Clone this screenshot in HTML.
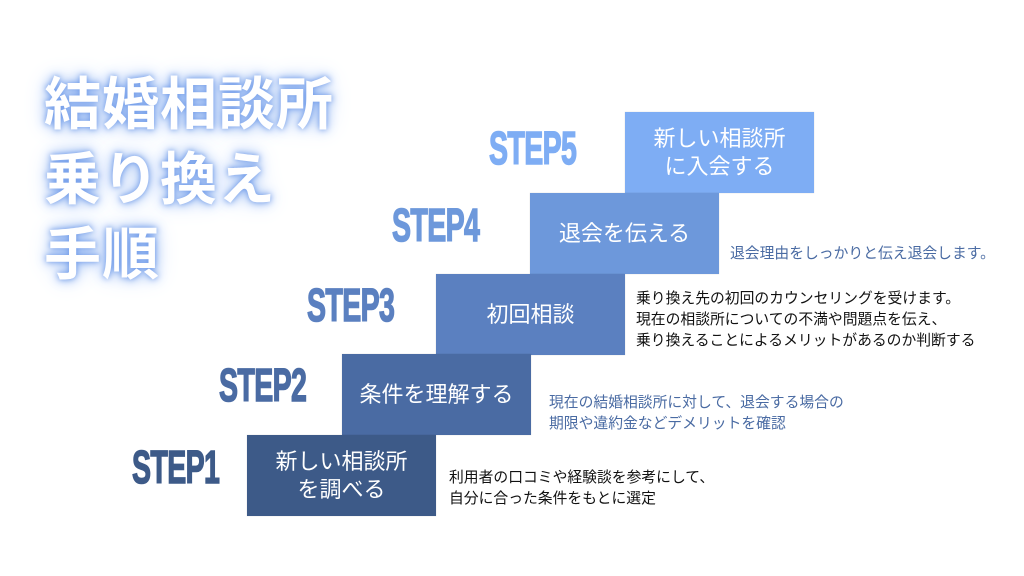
<!DOCTYPE html>
<html><head><meta charset="utf-8"><style>
body{margin:0;width:1024px;height:576px;background:#fff;position:relative;overflow:hidden;font-family:"Liberation Sans","Noto Sans CJK JP",sans-serif}
.t{position:absolute;left:44px;color:#fff;font-size:57px;font-weight:bold;letter-spacing:1px;line-height:60px;text-shadow:0 0 6px #6d98e8,0 0 12px #8fb4f0,0 0 24px #c8dafa;white-space:nowrap}
.b{position:absolute;width:189px;height:81px;color:#fff;font-size:22px;display:flex;align-items:center;justify-content:center;text-align:center;line-height:28px;box-shadow:0 0 1px rgba(0,0,0,.2)}
.s{position:absolute;font-family:"Liberation Sans Narrow","Liberation Sans",sans-serif;font-weight:bold;font-size:46px;line-height:46px;transform:scaleX(.62);transform-origin:left top;letter-spacing:-1px;white-space:nowrap;-webkit-text-stroke:1.5px currentColor}
.d{position:absolute;font-size:14.8px;line-height:21px;white-space:nowrap}
</style></head><body>
<div class="t" style="top:75px">結婚相談所</div>
<div class="t" style="top:150px">乗り換え</div>
<div class="t" style="top:225px">手順</div>

<div class="b" style="left:625px;top:112px;background:#7eadf4">新しい相談所<br>に入会する</div>
<div class="b" style="left:530px;top:193px;background:#6d98db">退会を伝える</div>
<div class="b" style="left:436px;top:274px;background:#5b80c0">初回相談</div>
<div class="b" style="left:342px;top:354px;background:#4a6ba3">条件を理解する</div>
<div class="b" style="left:247px;top:435px;background:#3d5a88">新しい相談所<br>を調べる</div>

<div class="s" style="left:489px;top:125px;color:#7eadf4">STEP5</div>
<div class="s" style="left:392px;top:202px;color:#6d98db">STEP4</div>
<div class="s" style="left:307px;top:282px;color:#5b80c0">STEP3</div>
<div class="s" style="left:219px;top:362px;color:#4a6ba3">STEP2</div>
<div class="s" style="left:132px;top:444px;color:#3d5a88">STEP1</div>

<div class="d" style="left:730px;top:244px;color:#4a6ba3">退会理由をしっかりと伝え退会します。</div>
<div class="d" style="left:636px;top:289px;color:#111">乗り換え先の初回のカウンセリングを受けます。<br>現在の相談所についての不満や問題点を伝え、<br>乗り換えることによるメリットがあるのか判断する</div>
<div class="d" style="left:549px;top:393px;color:#4a6ba3">現在の結婚相談所に対して、退会する場合の<br>期限や違約金などデメリットを確認</div>
<div class="d" style="left:449px;top:468px;color:#111">利用者の口コミや経験談を参考にして、<br>自分に合った条件をもとに選定</div>
</body></html>
